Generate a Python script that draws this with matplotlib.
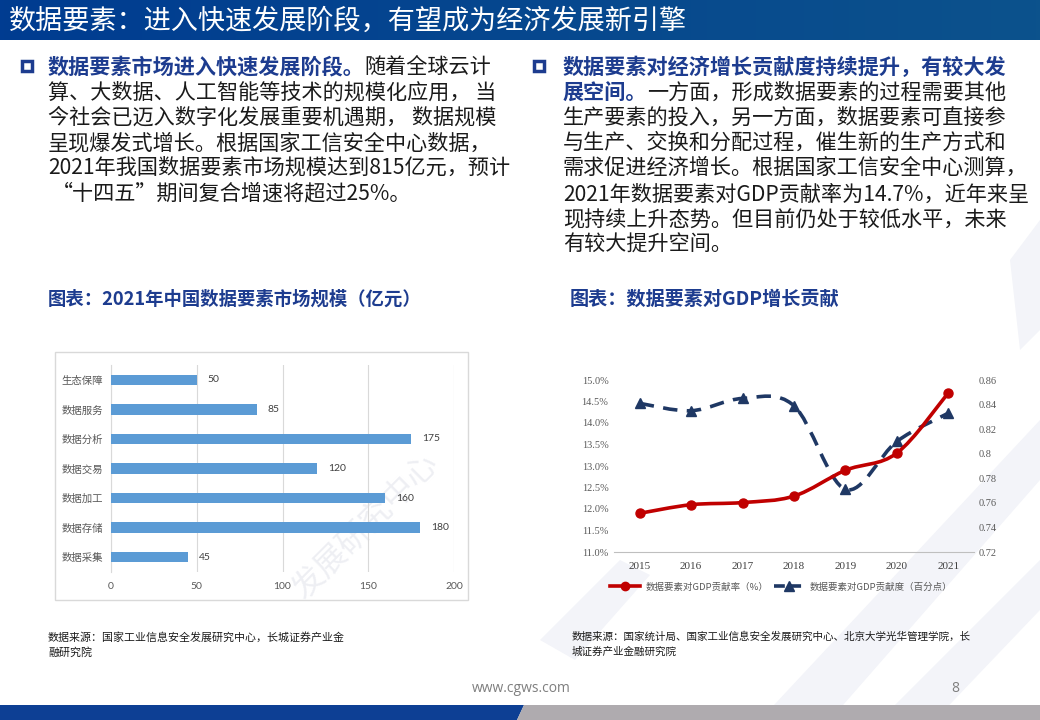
import matplotlib
matplotlib.use('Agg')
import matplotlib.pyplot as plt
import numpy as np
from matplotlib.patches import Rectangle, Polygon, PathPatch
from matplotlib.path import Path
from matplotlib.lines import Line2D

plt.rcParams['font.family'] = ['Noto Sans CJK SC', 'DejaVu Sans']

# ---- data ----
title = '数据要素：进入快速发展阶段，有望成为经济发展新引擎'

left_head = '数据要素市场进入快速发展阶段。'
left_lines = ['随着全球云计',
              '算、大数据、人工智能等技术的规模化应用， 当',
              '今社会已迈入数字化发展重要机遇期， 数据规模',
              '呈现爆发式增长。根据国家工信安全中心数据，',
              '2021年我国数据要素市场规模达到815亿元，预计',
              '“十四五”期间复合增速将超过25%。']

right_head = ['数据要素对经济增长贡献度持续提升，有较大发', '展空间。']
right_lines = ['一方面，形成数据要素的过程需要其他',
               '生产要素的投入，另一方面，数据要素可直接参',
               '与生产、交换和分配过程，催生新的生产方式和',
               '需求促进经济增长。根据国家工信安全中心测算，',
               '2021年数据要素对GDP贡献率为14.7%，近年来呈',
               '现持续上升态势。但目前仍处于较低水平，未来',
               '有较大提升空间。']

bar_title = '图表：2021年中国数据要素市场规模（亿元）'
bar_cats = ['生态保障', '数据服务', '数据分析', '数据交易', '数据加工', '数据存储', '数据采集']
bar_vals = [50, 85, 175, 120, 160, 180, 45]
bar_xticks = [0, 50, 100, 150, 200]

line_title = '图表：数据要素对GDP增长贡献'
years = ['2015', '2016', '2017', '2018', '2019', '2020', '2021']
gdp_rate = [11.9, 12.1, 12.15, 12.3, 12.9, 13.3, 14.7]
gdp_degree = [0.841, 0.835, 0.845, 0.839, 0.771, 0.810, 0.833]
rate_ticks = [11.0, 11.5, 12.0, 12.5, 13.0, 13.5, 14.0, 14.5, 15.0]
degree_ticks = [0.72, 0.74, 0.76, 0.78, 0.80, 0.82, 0.84, 0.86]
degree_labels = ['0.72', '0.74', '0.76', '0.78', '0.8', '0.82', '0.84', '0.86']
legend_labels = ['数据要素对GDP贡献率（%）', '数据要素对GDP贡献度（百分点）']

src_left = ['数据来源：国家工业信息安全发展研究中心，长城证券产业金', '融研究院']
src_right = ['数据来源：国家统计局、国家工业信息安全发展研究中心、北京大学光华管理学院，长',
             '城证券产业金融研究院']

BLUE = '#1D3C8F'
TXT = '#1A1A1A'
GRAY = '#595959'

W, H = 1040, 720
fig = plt.figure(figsize=(W / 100, H / 100), dpi=100)
bg = fig.add_axes([0, 0, 1, 1])
bg.set_xlim(0, W)
bg.set_ylim(H, 0)
bg.axis('off')

# faint background shapes
for pts in [[(760, 720), (1040, 420), (1040, 480), (830, 720)],
            [(880, 720), (1040, 560), (1040, 610), (935, 720)],
            [(540, 640), (620, 560), (650, 575), (575, 660)],
            [(1010, 260), (1040, 220), (1040, 330), (1020, 350)]]:
    bg.add_patch(Polygon(pts, closed=True, facecolor='#F3F4F9', edgecolor='none', zorder=0))

# header bar
grad = np.linspace(0, 1, 256).reshape(1, -1)
c1 = np.array([0, 60, 145]) / 255
c2 = np.array([12, 82, 140]) / 255
img = c1[None, None, :] * (1 - grad[..., None]) + c2[None, None, :] * grad[..., None]
bg.imshow(img, extent=[0, W, 40, 0], aspect='auto', zorder=1)
bg.set_xlim(0, W)
bg.set_ylim(H, 0)
bg.text(9, 21, title, color='white', fontsize=19.5, fontweight='medium', va='center', ha='left', zorder=2)

# bullet squares
for x0 in [22, 534]:
    bg.add_patch(Rectangle((x0, 61), 10, 10, fill=False, edgecolor=BLUE, lw=2.5, zorder=2))

fs = 15.2
line_y_left = [67, 93, 118, 143, 168, 193]
t = bg.text(48, line_y_left[0], left_head, color=BLUE, fontsize=fs, fontweight='bold', va='center', ha='left')
bg.annotate(left_lines[0], xy=(1, 0.5), xycoords=t, va='center', ha='left', color=TXT, fontsize=fs)
for s, y in zip(left_lines[1:], line_y_left[1:]):
    bg.text(48 if not s.startswith('“') else 52, y, s, color=TXT, fontsize=fs, va='center', ha='left')

line_y_right = [67, 93, 118, 143, 168, 195, 220, 245]
bg.text(563, line_y_right[0], right_head[0], color=BLUE, fontsize=fs, fontweight='bold', va='center', ha='left')
t = bg.text(563, line_y_right[1], right_head[1], color=BLUE, fontsize=fs, fontweight='bold', va='center', ha='left')
bg.annotate(right_lines[0], xy=(1, 0.5), xycoords=t, va='center', ha='left', color=TXT, fontsize=fs)
for s, y in zip(right_lines[1:], line_y_right[2:]):
    bg.text(563, y, s, color=TXT, fontsize=fs, va='center', ha='left')

# chart titles
bg.text(48, 299, bar_title, color=BLUE, fontsize=13.2, fontweight='bold', va='center', ha='left')
bg.text(570, 299, line_title, color=BLUE, fontsize=13.8, fontweight='bold', va='center', ha='left')

# ---- bar chart ----
bg.add_patch(Rectangle((55, 352), 413, 248, fill=False, edgecolor='#D9D9D9', lw=1, zorder=1))
ax1 = fig.add_axes([111 / W, 1 - 572 / H, (454 - 111) / W, (572 - 365) / H])
ax1.set_facecolor('none')
ypos = np.arange(len(bar_cats))[::-1]
ax1.barh(ypos, bar_vals, height=0.35, color='#5B9BD5', zorder=3)
for yp, v in zip(ypos, bar_vals):
    ax1.annotate(str(v), xy=(v, yp), xytext=(8, 0), textcoords='offset points',
                 va='center', ha='left', fontsize=7.5, color='#404040', family='Lato')
ax1.set_xlim(0, 200)
ax1.set_ylim(-0.5, len(bar_cats) - 0.5)
ax1.set_xticks(bar_xticks)
ax1.set_xticklabels([str(v) for v in bar_xticks], fontsize=7.5, color=GRAY, family='Lato')
ax1.set_yticks(ypos)
ax1.set_yticklabels(bar_cats, fontsize=7.5, color=GRAY)
ax1.tick_params(length=0)
ax1.tick_params(axis='y', pad=6)
ax1.tick_params(axis='x', pad=7)
ax1.grid(axis='x', color='#D9D9D9', lw=0.8)
ax1.set_axisbelow(True)
for sp in ['top', 'right', 'bottom']:
    ax1.spines[sp].set_visible(False)
ax1.spines['left'].set_color('#D9D9D9')


# ---- line chart ----
def smooth_path(xs, ys):
    n = len(xs)
    verts = [(xs[0], ys[0])]
    codes = [Path.MOVETO]
    for i in range(n - 1):
        a = max(i - 1, 0)
        b = min(i + 2, n - 1)
        verts.append((xs[i] + (xs[i + 1] - xs[a]) / 6, ys[i] + (ys[i + 1] - ys[a]) / 6))
        verts.append((xs[i + 1] - (xs[b] - xs[i]) / 6, ys[i + 1] - (ys[b] - ys[i]) / 6))
        verts.append((xs[i + 1], ys[i + 1]))
        codes += [Path.CURVE4] * 3
    return Path(verts, codes)


ax2 = fig.add_axes([614 / W, 1 - 552 / H, (974 - 614) / W, (552 - 380) / H])
ax2.set_facecolor('none')
ax3 = ax2.twinx()
ax3.set_facecolor('none')
xs = np.arange(len(years))
RED = '#C00000'
NAVY = '#1F3864'

ax3.add_patch(PathPatch(smooth_path(xs, gdp_degree), fill=False, edgecolor=NAVY, lw=2.6,
                        linestyle=(0, (4, 2.6)), zorder=2))
ax3.plot(xs, gdp_degree, linestyle='none', marker='^', markersize=7.5, color=NAVY, zorder=3)
ax2.add_patch(PathPatch(smooth_path(xs, gdp_rate), fill=False, edgecolor=RED, lw=2.6, zorder=4))
ax2.plot(xs, gdp_rate, linestyle='none', marker='o', markersize=6.5, color=RED, zorder=5)
ax2.set_zorder(ax3.get_zorder() + 1)

ax2.set_xlim(-0.5, len(years) - 0.5)
ax2.set_ylim(11, 15)
ax3.set_ylim(0.72, 0.86)
ax2.set_xticks(xs)
ax2.set_xticklabels(years, fontsize=8, color='#404040', family='Liberation Serif')
ax2.set_yticks(rate_ticks)
ax2.set_yticklabels(['%.1f%%' % v for v in rate_ticks], fontsize=7.5, color=GRAY, family='Liberation Serif')
ax3.set_yticks(degree_ticks)
ax3.set_yticklabels(degree_labels, fontsize=7.5, color=GRAY, family='Liberation Serif')
ax2.tick_params(length=0)
ax2.tick_params(axis='y', pad=4)
ax2.tick_params(axis='x', pad=7)
ax3.tick_params(length=0, pad=3)
for a in (ax2, ax3):
    for sp in ['top', 'right', 'left', 'bottom']:
        a.spines[sp].set_visible(False)
ax2.spines['bottom'].set_visible(True)
ax2.spines['bottom'].set_color('#BFBFBF')

handles = [Line2D([], [], color=RED, lw=2.6, marker='o', markersize=6),
           Line2D([], [], color=NAVY, lw=2.6, linestyle=(0, (3, 1.5)), marker='^', markersize=7)]
fig.legend(handles, legend_labels, loc='center', bbox_to_anchor=(781 / W, 1 - 587 / H), ncol=2,
           frameon=False, fontsize=6.8, labelcolor=GRAY, handlelength=3.2, columnspacing=0.6,
           handletextpad=0.6)

# watermark text
bg.text(365, 527, '发展研究中心', rotation=45, fontsize=23, color='#DADCE6', alpha=0.45,
        ha='center', va='center', zorder=10)

# sources
for s, y in zip(src_left, [637, 652]):
    bg.text(48, y, s, fontsize=7.9, color=TXT, fontweight='medium', va='center', ha='left')
for s, y in zip(src_right, [637, 652]):
    bg.text(572, y, s, fontsize=7.6, color=TXT, fontweight='medium', va='center', ha='left')

# footer
bg.text(521, 688, 'www.cgws.com', fontsize=10, color='#7F7F7F', va='center', ha='center', family='Open Sans')
bg.text(955, 688, '8', fontsize=10, color='#7F7F7F', va='center', ha='center', family='Open Sans')
bg.add_patch(Polygon([(0, 705), (524, 705), (517, 720), (0, 720)], closed=True,
                     facecolor='#0D3F94', edgecolor='none', zorder=2))
bg.add_patch(Polygon([(524, 705), (1040, 705), (1040, 720), (517, 720)], closed=True,
                     facecolor='#AFABAF', edgecolor='none', zorder=2))

fig.savefig('out.png', dpi=100)
